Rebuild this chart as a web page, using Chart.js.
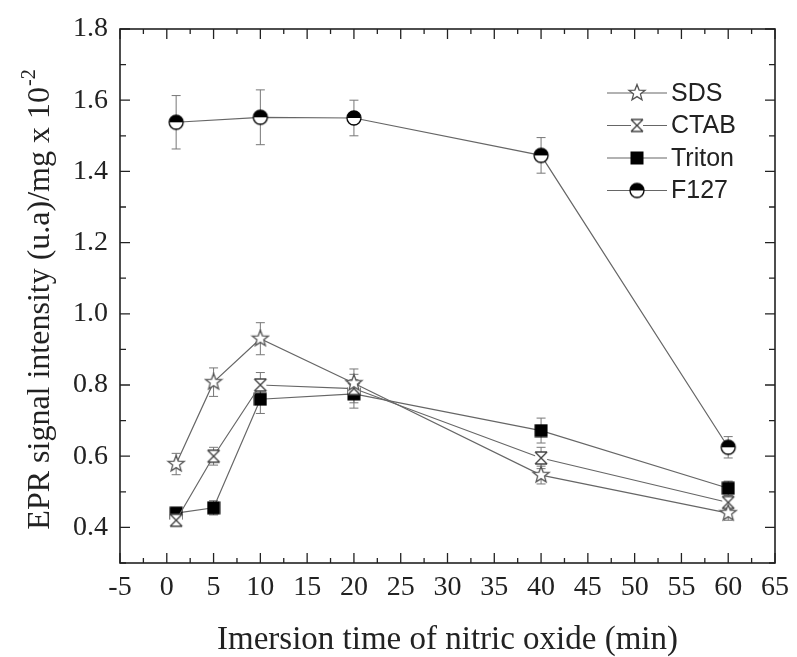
<!DOCTYPE html>
<html lang="en">
<head>
<meta charset="UTF-8">
<title>EPR signal intensity vs immersion time</title>
<script src="https://cdn.jsdelivr.net/npm/chart.js"></script>
<style>
  body { margin: 0; background: #fff; }
  #epr { display: block; }
</style>
</head>
<body>
<canvas id="epr" width="797" height="657"></canvas>
<script>
// values (x: min, y: EPR intensity x 10^-2)
const times = [1, 5, 10, 20, 40, 60];
const timesF127 = [1, 10, 20, 40, 60];

const sds = [0.578, 0.808, 0.930, 0.805, 0.547, 0.440];
const sdsErr = [0.030, 0.040, 0.045, 0.040, 0.025, 0.020];
const ctab = [0.420, 0.600, 0.800, 0.790, 0.595, 0.470];
const ctabErr = [0.015, 0.025, 0.035, 0.040, 0.030, 0.020];
const triton = [0.440, 0.455, 0.760, 0.775, 0.672, 0.510];
const tritonErr = [0.015, 0.020, 0.040, 0.040, 0.035, 0.020];
const f127 = [1.538, 1.552, 1.550, 1.445, 0.625];
const f127Err = [0.075, 0.077, 0.050, 0.050, 0.030];

const xTicks = [-5, 0, 5, 10, 15, 20, 25, 30, 35, 40, 45, 50, 55, 60, 65];
const yTicks = [0.4, 0.6, 0.8, 1.0, 1.2, 1.4, 1.6, 1.8];

const serif = "'Liberation Serif', 'Times New Roman', serif";
const sans = "'Liberation Sans', Arial, sans-serif";

// small canvases used as point styles
function makeMarker(size, draw) {
  const c = document.createElement('canvas');
  c.width = size;
  c.height = size;
  draw(c.getContext('2d'), size / 2);
  return c;
}

const starMark = makeMarker(20, (g, m) => {
  g.beginPath();
  for (let i = 0; i < 10; i++) {
    const r = i % 2 ? 3.6 : 8.5;
    const a = -Math.PI / 2 + i * Math.PI / 5;
    g.lineTo(m + r * Math.cos(a), m + r * Math.sin(a));
  }
  g.closePath();
  g.fillStyle = '#fff';
  g.fill();
  g.strokeStyle = '#555';
  g.lineWidth = 1.3;
  g.stroke();
});

const ctabMark = makeMarker(18, (g, m) => {
  g.fillStyle = '#fff';
  g.fillRect(m - 6, m - 6, 12, 12);
  g.strokeStyle = '#444';
  g.lineWidth = 1.4;
  g.beginPath();
  g.moveTo(m - 6, m - 6); g.lineTo(m + 6, m + 6);
  g.moveTo(m + 6, m - 6); g.lineTo(m - 6, m + 6);
  g.moveTo(m - 6, m - 6); g.lineTo(m + 6, m - 6);
  g.moveTo(m - 6, m + 6); g.lineTo(m + 6, m + 6);
  g.stroke();
});

const squareMark = makeMarker(14, (g, m) => {
  g.fillStyle = '#000';
  g.fillRect(m - 6.5, m - 6.5, 13, 13);
});

const halfCircleMark = makeMarker(18, (g, m) => {
  g.beginPath();
  g.arc(m, m, 7, 0, Math.PI * 2);
  g.fillStyle = '#fff';
  g.fill();
  g.beginPath();
  g.arc(m, m, 7, Math.PI, Math.PI * 2);
  g.closePath();
  g.fillStyle = '#000';
  g.fill();
  g.beginPath();
  g.arc(m, m, 7, 0, Math.PI * 2);
  g.strokeStyle = '#000';
  g.lineWidth = 1.3;
  g.stroke();
});

function series(label, xs, ys, errs, mark) {
  return {
    label: label,
    data: xs.map((x, i) => ({ x: x, y: ys[i] })),
    errors: errs,
    showLine: true,
    borderColor: '#666',
    borderWidth: 1.2,
    pointStyle: mark,
    pointRadius: 8
  };
}

// vertical error bars with caps, behind the markers
const errorBars = {
  id: 'errorBars',
  beforeDatasetsDraw(chart) {
    const { ctx, scales: { x, y } } = chart;
    ctx.save();
    ctx.strokeStyle = '#777';
    ctx.lineWidth = 1;
    chart.data.datasets.forEach(ds => {
      ds.data.forEach((p, i) => {
        const px = x.getPixelForValue(p.x);
        const top = y.getPixelForValue(p.y + ds.errors[i]);
        const bot = y.getPixelForValue(p.y - ds.errors[i]);
        ctx.beginPath();
        ctx.moveTo(px, top); ctx.lineTo(px, bot);
        ctx.moveTo(px - 4.5, top); ctx.lineTo(px + 4.5, top);
        ctx.moveTo(px - 4.5, bot); ctx.lineTo(px + 4.5, bot);
        ctx.stroke();
      });
    });
    ctx.restore();
  }
};

// box frame with inward ticks on all four sides, y title, legend
const frame = {
  id: 'frame',
  afterDraw(chart) {
    const { ctx, chartArea: a, scales: { x, y } } = chart;
    ctx.save();
    ctx.strokeStyle = '#222';
    ctx.lineWidth = 1.6;
    ctx.strokeRect(a.left, a.top, a.right - a.left, a.bottom - a.top);

    ctx.lineWidth = 1.3;
    ctx.beginPath();
    xTicks.forEach((v, i) => {
      const px = x.getPixelForValue(v);
      ctx.moveTo(px, a.bottom); ctx.lineTo(px, a.bottom - 10);
      ctx.moveTo(px, a.top); ctx.lineTo(px, a.top + 10);
      if (i < xTicks.length - 1) {
        const mx = x.getPixelForValue((v + xTicks[i + 1]) / 2);
        ctx.moveTo(mx, a.bottom); ctx.lineTo(mx, a.bottom - 5);
        ctx.moveTo(mx, a.top); ctx.lineTo(mx, a.top + 5);
      }
    });
    const yMinor = [y.min].concat(yTicks.slice(0, -1).map((v, i) => (v + yTicks[i + 1]) / 2));
    yTicks.forEach(v => {
      const py = y.getPixelForValue(v);
      ctx.moveTo(a.left, py); ctx.lineTo(a.left + 10, py);
      ctx.moveTo(a.right, py); ctx.lineTo(a.right - 10, py);
    });
    yMinor.forEach(v => {
      const py = y.getPixelForValue(v);
      ctx.moveTo(a.left, py); ctx.lineTo(a.left + 6, py);
      ctx.moveTo(a.right, py); ctx.lineTo(a.right - 6, py);
    });
    ctx.stroke();

    // y axis title with superscript exponent
    const main = 'EPR signal intensity (u.a)/mg x 10';
    const sup = '-2';
    ctx.fillStyle = '#222';
    ctx.translate(49, (a.top + a.bottom) / 2 + 4);
    ctx.rotate(-Math.PI / 2);
    ctx.textBaseline = 'alphabetic';
    ctx.font = '32px ' + serif;
    const wMain = ctx.measureText(main).width;
    ctx.font = '20px ' + serif;
    const wSup = ctx.measureText(sup).width;
    const start = -(wMain + wSup) / 2;
    ctx.font = '32px ' + serif;
    ctx.fillText(main, start, 0);
    ctx.font = '20px ' + serif;
    ctx.fillText(sup, start + wMain + 1, -14);
    ctx.restore();

    // legend: line - marker - line, then label
    ctx.save();
    ctx.font = '25px ' + sans;
    ctx.textBaseline = 'middle';
    ctx.fillStyle = '#222';
    chart.data.datasets.forEach((ds, i) => {
      const ly = 93 + i * 32.5;
      ctx.strokeStyle = '#666';
      ctx.lineWidth = 1.2;
      ctx.beginPath();
      ctx.moveTo(607, ly); ctx.lineTo(667, ly);
      ctx.stroke();
      const img = ds.pointStyle;
      ctx.drawImage(img, 637 - img.width / 2, ly - img.height / 2);
      ctx.fillText(ds.label, 671, ly + 1);
    });
    ctx.restore();
  }
};

new Chart(document.getElementById('epr'), {
  type: 'scatter',
  data: {
    datasets: [
      series('SDS', times, sds, sdsErr, starMark),
      series('CTAB', times, ctab, ctabErr, ctabMark),
      series('Triton', times, triton, tritonErr, squareMark),
      series('F127', timesF127, f127, f127Err, halfCircleMark)
    ]
  },
  options: {
    responsive: false,
    animation: false,
    layout: { padding: { top: 29, right: 15, left: 0, bottom: 0 } },
    plugins: {
      legend: { display: false },
      tooltip: { enabled: false }
    },
    scales: {
      x: {
        type: 'linear',
        min: -5,
        max: 65,
        afterBuildTicks: s => { s.ticks = xTicks.map(v => ({ value: v })); },
        afterFit: s => { s.height = 94; },
        grid: { display: false, drawTicks: false },
        border: { display: false },
        ticks: {
          color: '#222',
          font: { family: serif, size: 28 },
          padding: 8,
          maxRotation: 0,
          autoSkip: false,
          callback: v => String(v)
        },
        title: {
          display: true,
          text: 'Imersion time of nitric oxide (min)',
          color: '#222',
          font: { family: serif, size: 33, lineHeight: 1.0 },
          padding: 0
        }
      },
      y: {
        type: 'linear',
        min: 0.3,
        max: 1.8,
        afterBuildTicks: s => { s.ticks = yTicks.map(v => ({ value: v })); },
        afterFit: s => { s.width = 120; },
        grid: { display: false, drawTicks: false },
        border: { display: false },
        ticks: {
          color: '#222',
          font: { family: serif, size: 28 },
          padding: 12,
          autoSkip: false,
          callback: v => v.toFixed(1)
        }
      }
    }
  },
  plugins: [errorBars, frame]
});
</script>
</body>
</html>
